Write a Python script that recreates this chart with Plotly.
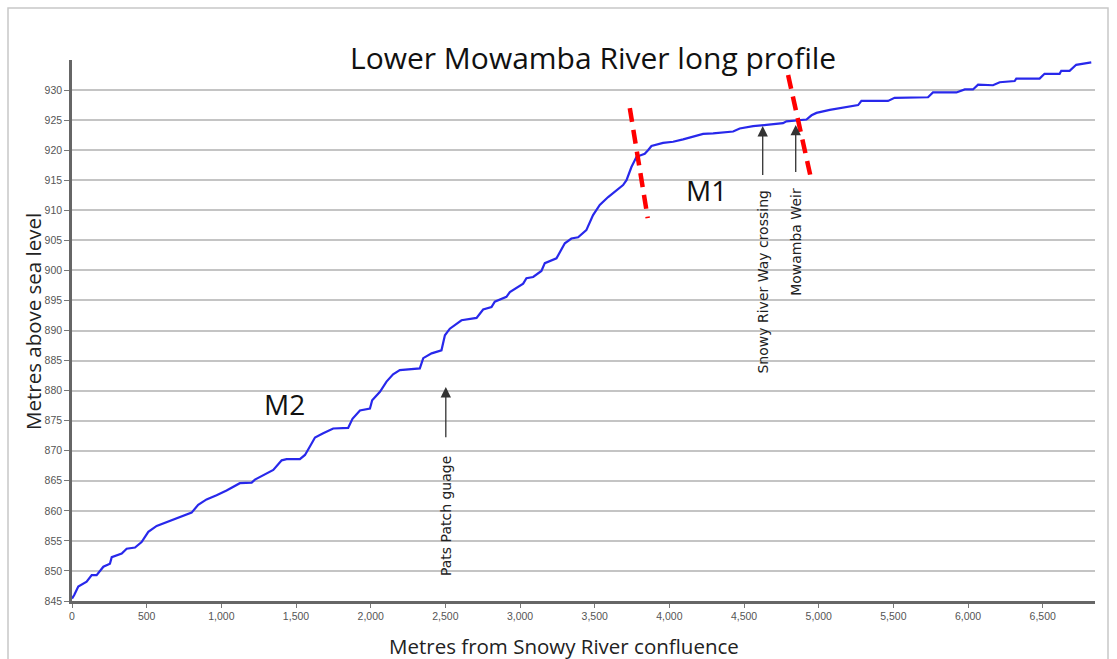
import plotly.graph_objects as go

# Long profile data (distance from Snowy River confluence, m ; elevation, m a.s.l.)
distance_m = [0, 15, 42, 98, 132, 165, 210, 254, 266, 333, 366, 422, 466, 511, 567, 611, 678, 756,
              801, 845, 901, 968, 1035, 1124, 1203, 1225, 1303, 1348, 1404, 1437, 1526, 1560, 1593,
              1627, 1682, 1749, 1849, 1878, 1928, 1995, 2010, 2062, 2106, 2150, 2195, 2329, 2352,
              2408, 2474, 2497, 2530, 2608, 2709, 2753, 2809, 2831, 2909, 2932, 3021, 3043, 3088,
              3143, 3166, 3244, 3300, 3344, 3389, 3444, 3489, 3534, 3590, 3690, 3713, 3746, 3780,
              3835, 3857, 3880, 3958, 4025, 4092, 4159, 4226, 4293, 4427, 4471, 4561, 4650, 4761,
              4784, 4851, 4918, 4952, 4985, 5074, 5208, 5264, 5286, 5363, 5464, 5508, 5732, 5765,
              5922, 5978, 6033, 6067, 6167, 6212, 6312, 6323, 6479, 6512, 6613, 6624, 6680, 6724,
              6769, 6825]
elevation_m = [845.4, 846.0, 847.4, 848.2, 849.3, 849.3, 850.7, 851.2, 852.3, 852.9, 853.7, 853.9,
               854.8, 856.5, 857.5, 857.9, 858.6, 859.3, 859.7, 861.0, 861.9, 862.6, 863.4, 864.6,
               864.7, 865.2, 866.2, 866.8, 868.4, 868.6, 868.6, 869.3, 870.7, 872.2, 872.9, 873.7,
               873.8, 875.3, 876.7, 877.0, 878.4, 879.8, 881.5, 882.7, 883.4, 883.7, 885.4, 886.2,
               886.7, 889.2, 890.3, 891.7, 892.1, 893.5, 893.9, 894.8, 895.6, 896.4, 897.8, 898.7,
               898.9, 899.9, 901.2, 902.0, 904.5, 905.3, 905.5, 906.7, 909.2, 910.9, 912.2, 914.2,
               915.0, 917.2, 918.9, 919.4, 920.0, 920.7, 921.2, 921.4, 921.8, 922.3, 922.7, 922.8,
               923.1, 923.6, 924.0, 924.2, 924.5, 924.8, 924.9, 925.1, 925.8, 926.2, 926.7, 927.2,
               927.5, 928.2, 928.2, 928.2, 928.7, 928.8, 929.6, 929.6, 930.1, 930.1, 930.9, 930.8,
               931.3, 931.5, 931.9, 931.9, 932.7, 932.7, 933.2, 933.2, 934.2, 934.4, 934.6]

x_ticks = list(range(0, 7000, 500))
y_ticks = list(range(845, 935, 5))

# Landmarks: (label, distance, arrow head elev, arrow tail elev, label centre elev)
landmark_labels = ["Pats Patch guage", "Snowy River Way crossing", "Mowamba Weir"]
landmark_x = [2503, 4625, 4846]
landmark_head = [880.6, 924.0, 924.2]
landmark_tail = [872.0, 915.6, 916.1]
landmark_text_y = [859.1, 898.1, 904.7]

# Section labels
section_labels = ["M2", "M1"]
section_x = [1426, 4250]
section_y = [877.8, 913.4]

# Break lines (red dashed): x0, y0, x1, y1
break_lines = [(3735, 927.0, 3855, 908.7), (4795, 932.5, 4951, 915.0)]

fig = go.Figure()
fig.add_trace(go.Scatter(x=distance_m, y=elevation_m, mode="lines",
                         line=dict(color="rgb(40,40,235)", width=2.2), hoverinfo="x+y",
                         showlegend=False))

for (x0, y0, x1, y1) in break_lines:
    fig.add_shape(type="line", x0=x0, y0=y0, x1=x1, y1=y1, xref="x", yref="y",
                  line=dict(color="#ff0000", width=4.5, dash="14px,8px"))

for lab, x, yh, yt, ytxt in zip(landmark_labels, landmark_x, landmark_head, landmark_tail, landmark_text_y):
    fig.add_annotation(x=x, y=yh, ax=x, ay=yt, xref="x", yref="y", axref="x", ayref="y",
                       text="", showarrow=True, arrowhead=2, arrowsize=1.6, arrowwidth=1.3,
                       arrowcolor="#333")
    fig.add_annotation(x=x, y=ytxt, xref="x", yref="y", text=lab, showarrow=False,
                       textangle=-90, xanchor="center", yanchor="middle",
                       font=dict(family="DejaVu Sans", size=14, color="#222"))

for lab, x, y in zip(section_labels, section_x, section_y):
    fig.add_annotation(x=x, y=y, xref="x", yref="y", text=lab, showarrow=False,
                       xanchor="center", yanchor="middle",
                       font=dict(family="Open Sans", size=28, color="#111"))

# Title and axis titles
fig.add_annotation(x=(593 - 72) / 1023, y=(601 - 58) / 541, xref="paper", yref="paper",
                   text="Lower Mowamba River long profile", showarrow=False,
                   xanchor="center", yanchor="middle",
                   font=dict(family="Open Sans", size=30, color="#111"))
fig.add_annotation(x=(564 - 72) / 1023, y=(601 - 646) / 541, xref="paper", yref="paper",
                   text="Metres from Snowy River confluence", showarrow=False,
                   xanchor="center", yanchor="middle",
                   font=dict(family="Open Sans", size=20.5, color="#222"))
fig.add_annotation(x=(33 - 72) / 1023, y=(601 - 322) / 541, xref="paper", yref="paper",
                   text="Metres above sea level", showarrow=False, textangle=-90,
                   xanchor="center", yanchor="middle",
                   font=dict(family="Open Sans", size=20.5, color="#222"))

# Outer frame
fig.add_shape(type="rect", xref="paper", yref="paper",
              x0=(8 - 72) / 1023, x1=(1108 - 72) / 1023, y0=(601 - 680) / 541, y1=(601 - 8) / 541,
              line=dict(color="#c8c8c8", width=1.5), fillcolor="rgba(0,0,0,0)", layer="below")

fig.update_xaxes(range=[0, 6850], tickvals=x_ticks, tickformat=",d", showgrid=False,
                 zeroline=False, showline=True, linecolor="#666", linewidth=2.5,
                 ticks="outside", ticklen=4, tickcolor="#777", tickwidth=1,
                 tickfont=dict(family="Liberation Sans", size=10.5, color="#555"))
fig.update_yaxes(range=[845, 935], tickvals=y_ticks, showgrid=True, gridcolor="#c4c4c4",
                 gridwidth=1.5, zeroline=False, showline=True, linecolor="#666", linewidth=2.5,
                 ticks="outside", ticklen=5, tickcolor="#777", tickwidth=1,
                 tickfont=dict(family="Liberation Sans", size=10.5, color="#555"))

fig.update_layout(width=1117, height=659, margin=dict(l=72, r=22, t=60, b=58),
                  plot_bgcolor="white", paper_bgcolor="white", showlegend=False)

fig.write_html("out.html", config={"displayModeBar": False},
               post_script="document.body.style.margin='0';")
